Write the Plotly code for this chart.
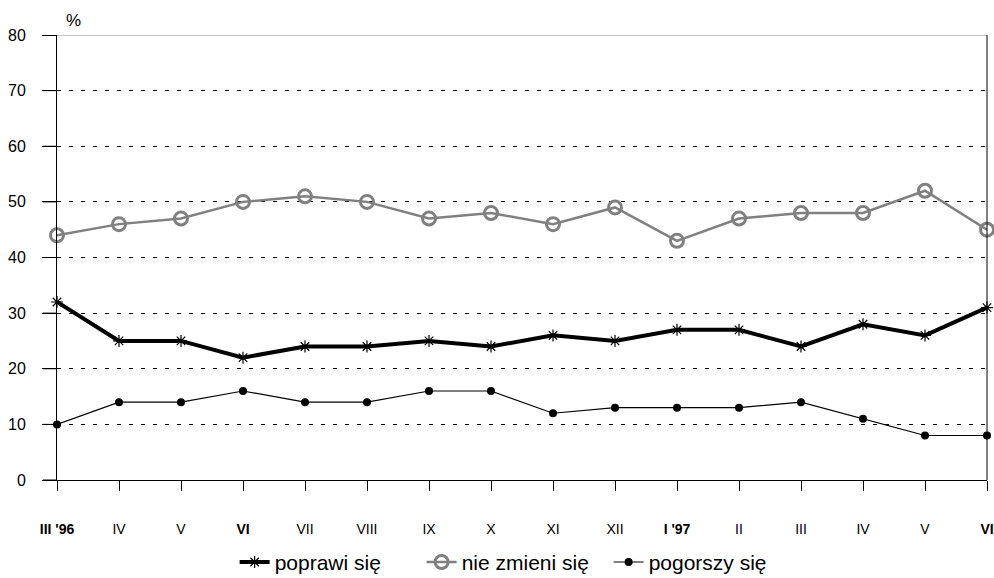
import plotly.graph_objects as go

categories = ["<b>III '96</b>", "IV", "V", "<b>VI</b>", "VII", "VIII", "IX", "X",
              "XI", "XII", "<b>I '97</b>", "II", "III", "IV", "V", "<b>VI</b>"]
poprawi = [32, 25, 25, 22, 24, 24, 25, 24, 26, 25, 27, 27, 24, 28, 26, 31]
nie_zmieni = [44, 46, 47, 50, 51, 50, 47, 48, 46, 49, 43, 47, 48, 48, 52, 45]
pogorszy = [10, 14, 14, 16, 14, 14, 16, 16, 12, 13, 13, 13, 14, 11, 8, 8]
y_ticks = [0, 10, 20, 30, 40, 50, 60, 70, 80]

xs = list(range(len(categories)))

fig = go.Figure()
fig.add_trace(go.Scatter(
    x=xs, y=poprawi, name="poprawi się", mode="lines+markers",
    line=dict(color="black", width=4),
    marker=dict(symbol="asterisk-open", size=10, color="black",
                line=dict(color="black", width=1.2)),
    cliponaxis=False,
))
fig.add_trace(go.Scatter(
    x=xs, y=nie_zmieni, name="nie zmieni się", mode="lines+markers",
    line=dict(color="#808080", width=2.5),
    marker=dict(symbol="circle-open", size=13, color="#808080",
                line=dict(color="#808080", width=3)),
    cliponaxis=False,
))
fig.add_trace(go.Scatter(
    x=xs, y=pogorszy, name="pogorszy się", mode="lines+markers",
    line=dict(color="black", width=1.2),
    marker=dict(symbol="circle", size=8, color="black"),
    cliponaxis=False,
))

# top frame line (gray) and right frame line (black)
fig.add_shape(type="line", xref="paper", yref="y", x0=0, x1=1, y0=80, y1=80,
              line=dict(color="#888888", width=1), layer="below")
fig.add_shape(type="line", xref="paper", yref="paper", x0=1, x1=1, y0=0, y1=1,
              line=dict(color="black", width=1), layer="above")
# outside tick marks on the value axis
for v in y_ticks:
    fig.add_shape(type="line", xref="paper", yref="y",
                  xsizemode="pixel", xanchor=0, x0=-14, x1=0, y0=v, y1=v,
                  line=dict(color="black", width=1), layer="above")
fig.add_annotation(text="%", xref="paper", yref="paper", x=0.0, y=1.0,
                   xanchor="left", yanchor="bottom", xshift=7, yshift=3,
                   showarrow=False, font=dict(size=17, color="black"))

fig.update_layout(
    width=994, height=578,
    margin=dict(l=57, r=7, t=35, b=98, autoexpand=False),
    paper_bgcolor="white", plot_bgcolor="white",
    font=dict(family="Liberation Sans, Arial, sans-serif", color="black"),
    showlegend=True,
    legend=dict(orientation="h", x=0.191, xanchor="left", y=-0.185, yanchor="middle",
                font=dict(size=21), traceorder="normal", itemwidth=30,
                entrywidth=142, entrywidthmode="pixels"),
    xaxis=dict(
        range=[0, len(categories) - 1], tickmode="array", tickvals=xs,
        ticktext=categories, tickfont=dict(size=14),
        showgrid=False, zeroline=False, automargin=False,
        showline=True, linecolor="black", linewidth=1,
        ticks="outside", ticklen=10, tickcolor="black", tickwidth=1,
        ticklabelstandoff=26,
    ),
    yaxis=dict(
        range=[0, 80], tickmode="array", tickvals=y_ticks,
        tickfont=dict(size=16), automargin=False,
        showgrid=True, gridcolor="black", gridwidth=1, griddash="4px,8px",
        zeroline=False,
        showline=True, linecolor="black", linewidth=1,
        ticks="outside", ticklen=14, tickcolor="black", tickwidth=1,
        ticklabelstandoff=13,
    ),
)

fig.write_html("out.html",
               config={"displayModeBar": False},
               post_script="document.body.style.margin='0px';"
                           "document.body.style.overflow='hidden';")
